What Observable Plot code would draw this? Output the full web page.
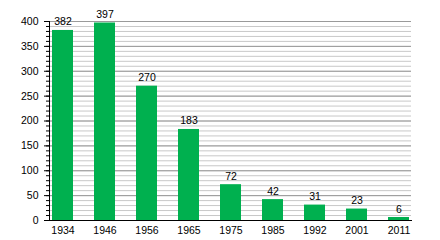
<!DOCTYPE html>
<html>
<head>
<meta charset="utf-8">
<script src="https://cdn.jsdelivr.net/npm/d3@7"></script>
<script src="https://cdn.jsdelivr.net/npm/@observablehq/plot@0.6"></script>
<style>
  body { margin: 0; background: #fff; }
  svg { font-family: "Liberation Sans", Arial, sans-serif; }
</style>
</head>
<body>
<div id="chart"></div>
<script>
const years = ["1934", "1946", "1956", "1965", "1975", "1985", "1992", "2001", "2011"];
const values = [382, 397, 270, 183, 72, 42, 31, 23, 6];
const majorTicks = [0, 50, 100, 150, 200, 250, 300, 350, 400];
const minorTicks = d3.range(0, 401, 10);

const data = years.map((y, i) => ({year: y, value: values[i]}));

const chart = Plot.plot({
  width: 440,
  height: 240,
  marginLeft: 49,
  marginRight: 29,
  marginTop: 21,
  marginBottom: 20,
  style: {fontFamily: "Liberation Sans, Arial, sans-serif", fontSize: "10.5px", color: "#000", background: "#fff"},
  x: {domain: years, paddingInner: 0.5, paddingOuter: 0, label: null},
  y: {domain: [0, 400], label: null},
  marks: [
    Plot.ruleY(minorTicks, {stroke: "#c8c8c8", strokeWidth: 1}),
    Plot.ruleY(majorTicks, {stroke: "#9a9a9a", strokeWidth: 1}),
    Plot.barY(data, {x: "year", y: "value", fill: "#00b04f"}),
    Plot.text(data, {x: "year", y: "value", text: d => String(d.value), dy: -5, lineAnchor: "bottom", fill: "#000", fontSize: 10.5}),
    Plot.axisY({ticks: minorTicks, tickSize: 3, text: null, stroke: "#000"}),
    Plot.axisY({ticks: majorTicks, tickSize: 5, tickPadding: 6, stroke: "#000", fill: "#000", label: null, fontSize: 10.5}),
    Plot.axisX({tickSize: 0, tickPadding: 6, fill: "#000", label: null, fontSize: 10.5}),
    Plot.frame({anchor: "left", stroke: "#000"}),
    Plot.frame({anchor: "bottom", stroke: "#000"})
  ]
});
document.getElementById("chart").appendChild(chart);
</script>
</body>
</html>
